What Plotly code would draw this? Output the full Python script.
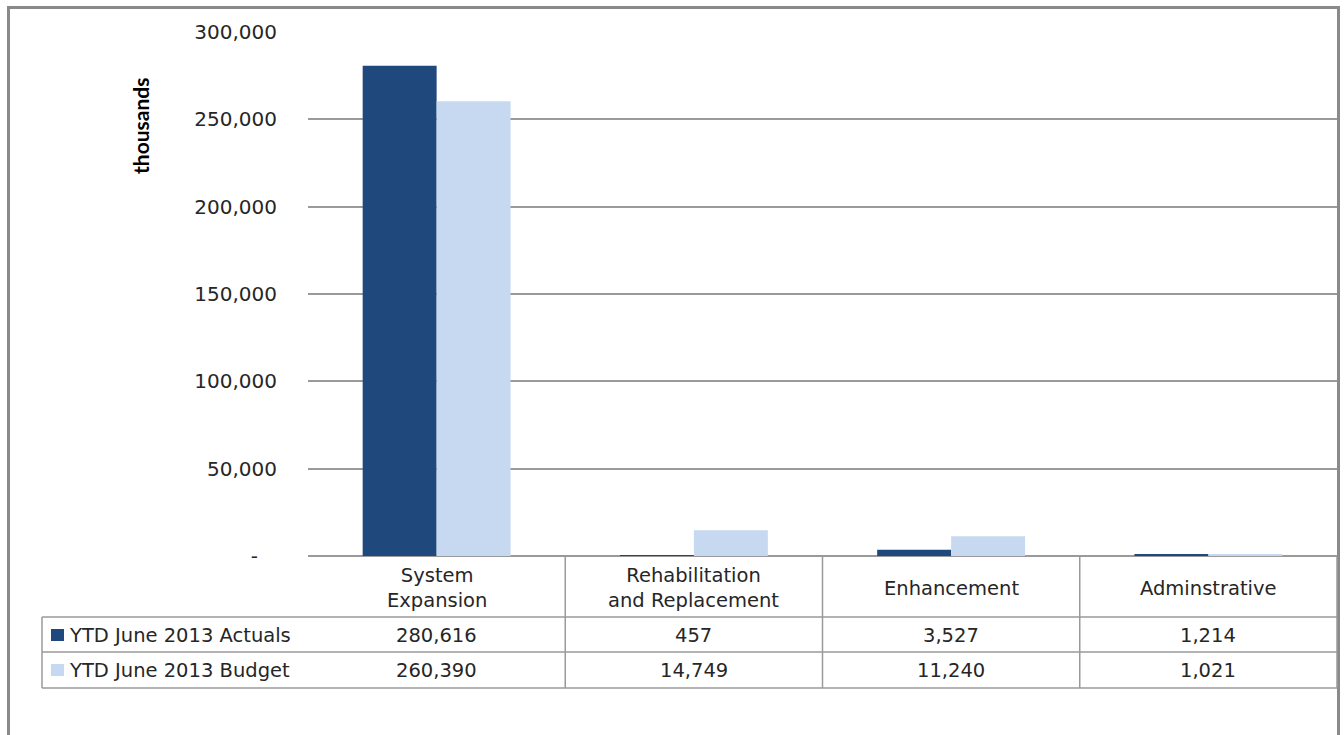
import plotly.graph_objects as go

categories = ["System<br>Expansion", "Rehabilitation<br>and Replacement", "Enhancement", "Adminstrative"]
series_names = ["YTD June 2013 Actuals", "YTD June 2013 Budget"]
actuals = [280616, 457, 3527, 1214]
budget = [260390, 14749, 11240, 1021]
y_tickvals = [0, 50000, 100000, 150000, 200000, 250000, 300000]
y_ticktext = ["-\u00a0\u00a0\u00a0", "50,000", "100,000", "150,000", "200,000", "250,000", "300,000"]
colors = ["#1F497D", "#C6D9F1"]

W, H = 1344, 735
L, R, T, B = 308, 1337, 32, 556
FONT = "DejaVu Sans"
TXT = "#262626"
LINE = "#9a9a9a"
FS = 19.5

def pxx(x):
    return (x - L) / (R - L)

def pxy(y):
    return (B - y) / (B - T)

fig = go.Figure()
for name, vals, c in zip(series_names, [actuals, budget], colors):
    fig.add_trace(go.Bar(x=list(range(len(categories))), y=vals, name=name,
                         marker=dict(color=c, line=dict(width=0)), showlegend=False))

shapes = []
annotations = []

# outer chart border
shapes.append(dict(type="rect", xref="paper", yref="paper",
                   x0=pxx(8.5), x1=pxx(1338.5), y0=pxy(760), y1=pxy(7.5),
                   line=dict(color="#8a8a8a", width=3), layer="above"))

# data table lines
row_tops = [617, 652, 688]
for y in row_tops:
    shapes.append(dict(type="line", xref="paper", yref="paper",
                       x0=pxx(42), x1=pxx(R), y0=pxy(y), y1=pxy(y),
                       line=dict(color=LINE, width=1.5)))
shapes.append(dict(type="line", xref="paper", yref="paper",
                   x0=pxx(42), x1=pxx(42), y0=pxy(617), y1=pxy(688),
                   line=dict(color=LINE, width=1.5)))
for i in range(1, len(categories)):
    shapes.append(dict(type="line", xref="x", yref="paper",
                       x0=i - 0.5, x1=i - 0.5, y0=pxy(556), y1=pxy(688),
                       line=dict(color=LINE, width=1.5)))
shapes.append(dict(type="line", xref="paper", yref="paper",
                   x0=pxx(R), x1=pxx(R), y0=pxy(556), y1=pxy(688),
                   line=dict(color=LINE, width=1.5)))

# category header labels
for i, cat in enumerate(categories):
    annotations.append(dict(x=i, y=pxy(588), xref="x", yref="paper", text=cat,
                            showarrow=False, xanchor="center", yanchor="middle",
                            font=dict(family=FONT, size=FS, color=TXT)))

# rows: legend key + values
row_centers = [635, 670]
for name, vals, c, yc in zip(series_names, [actuals, budget], colors, row_centers):
    shapes.append(dict(type="rect", xref="paper", yref="paper",
                       x0=pxx(51), x1=pxx(64), y0=pxy(yc + 6), y1=pxy(yc - 6),
                       fillcolor=c, line=dict(width=0)))
    annotations.append(dict(x=pxx(67), y=pxy(yc), xref="paper", yref="paper", text=name,
                            showarrow=False, xanchor="left", yanchor="middle",
                            font=dict(family=FONT, size=FS, color=TXT)))
    for i, v in enumerate(vals):
        annotations.append(dict(x=i, y=pxy(yc), xref="x", yref="paper", text=f"{v:,}",
                                showarrow=False, xanchor="center", yanchor="middle",
                                font=dict(family=FONT, size=FS, color=TXT)))

# y axis title
annotations.append(dict(x=pxx(140), y=pxy(126), xref="paper", yref="paper", text="<b>thousands</b>",
                        showarrow=False, textangle=-90, xanchor="center", yanchor="middle",
                        font=dict(family="Lato", size=21, color="#000000")))

fig.update_layout(
    width=W, height=H,
    margin=dict(l=L, r=W - R, t=T, b=H - B),
    paper_bgcolor="white", plot_bgcolor="white",
    barmode="group", bargap=0.425, bargroupgap=0,
    shapes=shapes, annotations=annotations,
    font=dict(family=FONT, color=TXT),
    xaxis=dict(range=[-0.5, len(categories) - 0.5], showticklabels=False, showgrid=False,
               zeroline=False, showline=False, ticks="", fixedrange=True),
    yaxis=dict(range=[0, 300000], tickvals=y_tickvals, ticktext=y_ticktext,
               showgrid=True, gridcolor=LINE, gridwidth=1.5, zeroline=True,
               zerolinecolor=LINE, zerolinewidth=1.5, showline=False, ticks="",
               ticklabelstandoff=30, tickfont=dict(family=FONT, size=20, color=TXT),
               fixedrange=True),
)

fig.write_html("out.html")
